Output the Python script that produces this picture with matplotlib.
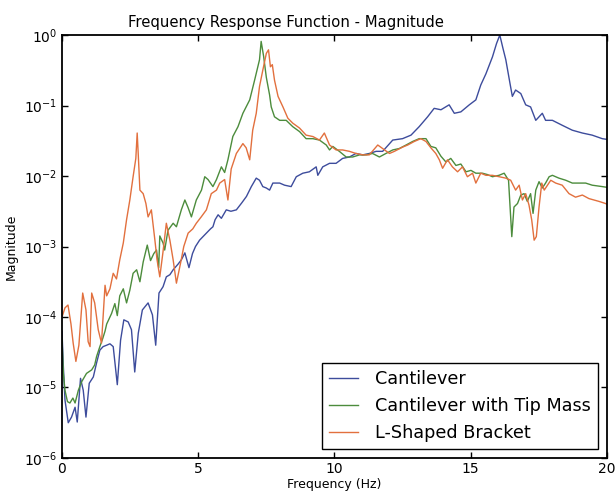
import numpy as np
import matplotlib
matplotlib.use("Agg")
import matplotlib.pyplot as plt

# values: frequency (Hz) and log10(magnitude)
cant_f = [0, 0.05, 0.11, 0.23, 0.35, 0.48, 0.56, 0.68, 0.78, 0.88, 1.0, 1.15, 1.27, 1.39, 1.51, 1.64, 1.76, 1.88,
          2.03, 2.15, 2.27, 2.43, 2.55, 2.67, 2.8, 2.95, 3.16, 3.32, 3.44, 3.56, 3.71, 3.83, 3.96, 4.08, 4.26, 4.38,
          4.51, 4.66, 4.79, 4.9, 5.05, 5.3, 5.45, 5.54, 5.62, 5.73, 5.85, 6.03, 6.2, 6.4, 6.6, 6.77, 6.95, 7.13,
          7.25, 7.37, 7.5, 7.62, 7.74, 7.99, 8.17, 8.41, 8.6, 8.84, 9.08, 9.33, 9.39, 9.57, 9.82, 10.06, 10.3,
          10.55, 10.79, 11.04, 11.28, 11.53, 11.77, 12.14, 12.5, 12.81, 13.11, 13.42, 13.66, 13.91, 14.21, 14.4,
          14.64, 14.95, 15.19, 15.37, 15.56, 15.8, 15.95, 16.07, 16.18, 16.29, 16.45, 16.53, 16.65, 16.84, 17.02,
          17.2, 17.39, 17.51, 17.63, 17.75, 18.0, 18.36, 18.73, 19.1, 19.46, 19.83, 20.0]
cant_exp = [-4.2, -4.7, -5.18, -5.5, -5.42, -5.28, -5.49, -4.87, -5.04, -5.42, -4.94, -4.85, -4.65, -4.47, -4.42,
            -4.4, -4.38, -4.42, -4.96, -4.33, -4.04, -4.07, -4.18, -4.78, -4.23, -3.9, -3.8, -3.97, -4.4, -3.66,
            -3.57, -3.43, -3.4, -3.33, -3.25, -3.19, -3.09, -3.3, -3.1, -3.0, -2.91, -2.81, -2.75, -2.72, -2.62,
            -2.55, -2.6, -2.48, -2.5, -2.48, -2.38, -2.29, -2.15, -2.03, -2.06, -2.15, -2.17, -2.2, -2.1, -2.1,
            -2.13, -2.15, -2.01, -1.96, -1.94, -1.87, -1.99, -1.87, -1.82, -1.82, -1.75, -1.73, -1.68, -1.7,
            -1.68, -1.65, -1.65, -1.49, -1.47, -1.42, -1.3, -1.16, -1.04, -1.06, -0.99, -1.11, -1.09, -0.99,
            -0.92, -0.71, -0.55, -0.31, -0.12, 0.0, -0.18, -0.35, -0.7, -0.87, -0.78, -0.83, -0.99, -1.02, -1.21,
            -1.16, -1.11, -1.21, -1.21, -1.28, -1.35, -1.39, -1.42, -1.47, -1.48]

tip_f = [0, 0.05, 0.11, 0.2, 0.29, 0.4, 0.48, 0.6, 0.72, 0.9, 1.09, 1.2, 1.27, 1.39, 1.5, 1.58, 1.64, 1.76, 1.82,
         1.94, 2.03, 2.12, 2.25, 2.37, 2.49, 2.61, 2.74, 2.86, 2.98, 3.13, 3.25, 3.37, 3.47, 3.55, 3.59, 3.71,
         3.77, 3.89, 4.08, 4.2, 4.38, 4.51, 4.63, 4.75, 4.93, 5.12, 5.24, 5.36, 5.54, 5.67, 5.85, 5.97, 6.09,
         6.27, 6.46, 6.64, 6.89, 7.07, 7.25, 7.31, 7.4, 7.5, 7.62, 7.68, 7.8, 7.99, 8.23, 8.47, 8.72, 8.96, 9.21,
         9.45, 9.7, 9.82, 9.94, 10.18, 10.43, 10.67, 10.92, 11.16, 11.4, 11.65, 11.89, 12.14, 12.38, 12.63,
         12.87, 13.11, 13.36, 13.54, 13.72, 13.91, 14.09, 14.27, 14.46, 14.64, 14.83, 15.01, 15.19, 15.43,
         15.62, 15.8, 16.04, 16.23, 16.39, 16.51, 16.59, 16.72, 16.84, 16.96, 17.08, 17.2, 17.29, 17.39, 17.51,
         17.63, 17.75, 17.88, 18.0, 18.24, 18.49, 18.73, 18.97, 19.22, 19.46, 19.83, 20.0]
tip_exp = [-4.3, -4.8, -5.04, -5.2, -5.22, -5.15, -5.22, -5.04, -4.92, -4.8, -4.75, -4.68, -4.56, -4.42, -4.3,
           -4.2, -4.1, -4.0, -3.95, -3.81, -3.98, -3.7, -3.6, -3.8, -3.62, -3.38, -3.33, -3.5, -3.22, -2.98,
           -3.2, -3.1, -3.05, -3.3, -2.85, -2.95, -3.05, -2.77, -2.67, -2.72, -2.48, -2.34, -2.45, -2.58, -2.34,
           -2.2, -2.01, -2.05, -2.15, -2.05, -1.87, -1.95, -1.77, -1.44, -1.3, -1.11, -0.92, -0.64, -0.35, -0.09,
           -0.3, -0.6, -0.85, -1.02, -1.16, -1.21, -1.21, -1.3, -1.37, -1.47, -1.47, -1.49, -1.56, -1.63, -1.58,
           -1.65, -1.73, -1.73, -1.7, -1.7, -1.68, -1.73, -1.68, -1.63, -1.61, -1.56, -1.51, -1.47, -1.47, -1.58,
           -1.6, -1.72, -1.8, -1.75, -1.85, -1.83, -1.94, -1.92, -1.96, -1.96, -1.98, -2.01, -1.99, -1.96, -2.06,
           -2.86, -2.44, -2.39, -2.27, -2.25, -2.36, -2.25, -2.53, -2.2, -2.08, -2.17, -2.1, -2.01, -1.99, -2.03,
           -2.06, -2.1, -2.1, -2.1, -2.13, -2.15, -2.16]

brk_f = [0, 0.11, 0.22, 0.33, 0.41, 0.51, 0.62, 0.76, 0.88, 0.96, 1.03, 1.09, 1.2, 1.33, 1.45, 1.58, 1.64, 1.76,
         1.88, 2.0, 2.12, 2.25, 2.37, 2.49, 2.61, 2.71, 2.76, 2.8, 2.86, 2.98, 3.08, 3.16, 3.28, 3.41, 3.49, 3.59,
         3.7, 3.83, 3.96, 4.08, 4.2, 4.35, 4.47, 4.63, 4.8, 4.93, 5.11, 5.3, 5.48, 5.67, 5.79, 5.97, 6.09, 6.21,
         6.4, 6.64, 6.76, 6.89, 7.0, 7.13, 7.25, 7.37, 7.5, 7.58, 7.65, 7.72, 7.8, 7.93, 8.11, 8.29, 8.47, 8.72,
         8.96, 9.21, 9.45, 9.63, 9.82, 10.06, 10.3, 10.55, 10.79, 11.04, 11.28, 11.59, 11.77, 12.02, 12.2, 12.5,
         12.69, 12.93, 13.17, 13.36, 13.54, 13.72, 13.85, 13.97, 14.15, 14.33, 14.52, 14.7, 14.88, 15.07, 15.19,
         15.37, 15.56, 15.8, 16.04, 16.29, 16.47, 16.65, 16.78, 16.9, 17.02, 17.14, 17.24, 17.33, 17.41, 17.51,
         17.61, 17.7, 17.82, 17.94, 18.12, 18.36, 18.61, 18.85, 19.1, 19.34, 19.71, 19.95, 20.0]
brk_exp = [-4.0, -3.87, -3.83, -4.1, -4.37, -4.63, -4.4, -3.66, -3.9, -4.35, -4.42, -3.66, -3.8, -4.18, -4.37,
           -3.55, -3.7, -3.6, -3.38, -3.46, -3.19, -2.95, -2.62, -2.34, -2.01, -1.75, -1.39, -1.7, -2.2, -2.25,
           -2.39, -2.58, -2.48, -2.91, -3.19, -3.43, -3.1, -2.67, -2.91, -3.19, -3.52, -3.24, -3.0, -2.81, -2.75,
           -2.67, -2.58, -2.48, -2.25, -2.2, -2.1, -2.05, -2.34, -1.9, -1.68, -1.54, -1.6, -1.77, -1.35, -1.11,
           -0.73, -0.5, -0.26, -0.21, -0.45, -0.42, -0.64, -0.87, -1.02, -1.18, -1.25, -1.32, -1.42, -1.44, -1.49,
           -1.39, -1.56, -1.63, -1.63, -1.65, -1.68, -1.7, -1.7, -1.56, -1.61, -1.68, -1.65, -1.59, -1.56, -1.51,
           -1.47, -1.51, -1.6, -1.68, -1.77, -1.89, -1.77, -1.87, -1.94, -1.87, -2.01, -1.96, -2.1, -1.96, -1.99,
           -1.99, -2.01, -2.03, -2.06, -2.2, -2.13, -2.34, -2.25, -2.41, -2.62, -2.91, -2.86, -2.44, -2.1, -2.2,
           -2.13, -2.06, -2.1, -2.13, -2.25, -2.3, -2.27, -2.32, -2.36, -2.39, -2.4]

labels = ["Cantilever", "Cantilever with Tip Mass", "L-Shaped Bracket"]
colors = ["#3d4c9c", "#4c8c3c", "#e2703e"]

fig = plt.figure(figsize=(6.15, 4.97), dpi=100)
ax = fig.add_axes([0.1008, 0.0785, 0.886, 0.851])

series = [(cant_f, cant_exp), (tip_f, tip_exp), (brk_f, brk_exp)]
for (f, e), lab, c in zip(series, labels, colors):
    ax.plot(f, 10.0 ** np.array(e), color=c, lw=1.0, label=lab)

ax.set_yscale("log")
ax.set_xlim(0, 20)
ax.set_ylim(1e-6, 1e0)
ax.set_xticks([0, 5, 10, 15, 20])
ax.minorticks_off()
ax.tick_params(direction="in", top=True, right=True, labelsize=10, length=4, width=1)
ax.tick_params(axis="x", pad=3)
for sp in ax.spines.values():
    sp.set_linewidth(1.3)

# the title sits left of the axes centre in the reference
ax.set_title("Frequency Response Function - Magnitude", fontsize=10.7, x=0.411, pad=6)
ax.set_xlabel("Frequency (Hz)", fontsize=9, labelpad=1)
ax.set_ylabel("Magnitude", fontsize=9, labelpad=4)

leg = ax.legend(loc="lower right", fontsize=12.7, fancybox=False, framealpha=1,
                edgecolor="black", borderaxespad=0.5, handlelength=1.6, handletextpad=1.0)
leg.get_frame().set_linewidth(1.0)

fig.savefig("out.png", dpi=100)
